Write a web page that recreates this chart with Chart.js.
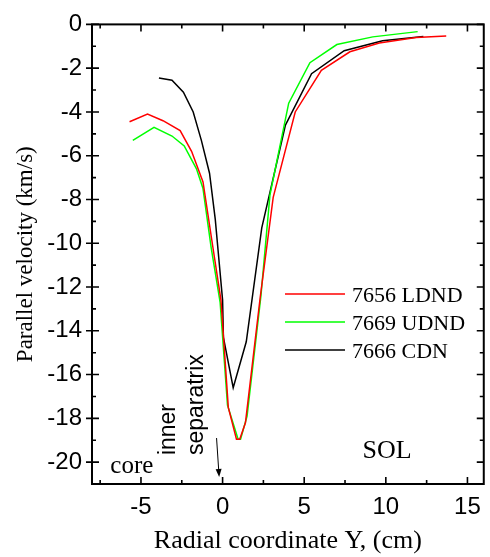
<!DOCTYPE html>
<html>
<head>
<meta charset="utf-8">
<script src="https://cdn.jsdelivr.net/npm/chart.js@4.4.1/dist/chart.umd.min.js"></script>
<style>
  html, body { margin: 0; padding: 0; background: #fff; }
  #wrap { width: 490px; height: 557px; }
</style>
</head>
<body>
<div id="wrap"><canvas id="velChart" width="490" height="557"></canvas></div>
<script>
// parallel velocity profiles across the separatrix
const seriesLabels = ['7656 LDND', '7669 UDND', '7666 CDN'];
const seriesColors = ['#ff0000', '#00ff00', '#000000'];

const ldndX = [-5.7, -4.6, -3.65, -2.6, -1.9, -1.2, -0.55, -0.1, 0.35, 0.85, 1.05, 1.4, 2.3, 3.1, 4.45, 6.05, 7.8, 9.6, 11.85, 13.7];
const ldndY = [-4.45, -4.1, -4.4, -4.85, -5.8, -7.2, -10.4, -12.6, -17.5, -18.95, -18.95, -18.2, -12.5, -7.9, -4.0, -2.1, -1.25, -0.85, -0.6, -0.53];

const udndX = [-5.5, -4.2, -3.1, -2.35, -1.6, -1.2, -0.7, -0.15, 0.3, 0.95, 1.1, 1.5, 2.35, 2.9, 4.05, 5.35, 7.0, 9.2, 11.95];
const udndY = [-5.3, -4.7, -5.1, -5.55, -6.6, -7.5, -10.2, -12.7, -17.4, -18.95, -18.95, -17.9, -12.4, -7.8, -3.6, -1.75, -0.92, -0.57, -0.33];

const cdnX = [-3.9, -3.1, -2.4, -1.8, -1.3, -0.8, -0.45, 0.0, 0.05, 0.65, 1.45, 2.4, 3.85, 5.45, 7.45, 9.8, 12.3];
const cdnY = [-2.45, -2.55, -3.1, -4.0, -5.3, -6.8, -8.9, -12.6, -14.3, -16.6, -14.5, -9.3, -4.6, -2.25, -1.2, -0.75, -0.55];

// axis ticks
const xTickValues = [-5, 0, 5, 10, 15];
const xMinorTicks = [-7.5, -2.5, 2.5, 7.5, 12.5];
const yTickValues = [0, -2, -4, -6, -8, -10, -12, -14, -16, -18, -20];
const yMinorTicks = [-1, -3, -5, -7, -9, -11, -13, -15, -17, -19];

const serif = '"Liberation Serif", "Times New Roman", serif';
const sans = '"Liberation Sans", Arial, sans-serif';

function toPoints(xs, ys) {
    return xs.map((x, i) => ({ x: x, y: ys[i] }));
}

// frame, inward ticks, legend, titles and the text notes
const decorPlugin = {
    id: 'decor',
    afterDraw(chart) {
        const ctx = chart.ctx;
        const a = chart.chartArea;
        const sx = chart.scales.x;
        const sy = chart.scales.y;
        ctx.save();
        ctx.strokeStyle = '#000';
        ctx.fillStyle = '#000';

        // ticks
        ctx.lineWidth = 1.6;
        ctx.beginPath();
        xTickValues.forEach(v => {
            const px = sx.getPixelForValue(v);
            ctx.moveTo(px, a.bottom); ctx.lineTo(px, a.bottom - 7);
            ctx.moveTo(px, a.top); ctx.lineTo(px, a.top + 7);
        });
        xMinorTicks.forEach(v => {
            const px = sx.getPixelForValue(v);
            ctx.moveTo(px, a.bottom); ctx.lineTo(px, a.bottom - 4);
            ctx.moveTo(px, a.top); ctx.lineTo(px, a.top + 4);
        });
        yTickValues.forEach(v => {
            const py = sy.getPixelForValue(v);
            ctx.moveTo(a.left - 6, py); ctx.lineTo(a.left + 7, py);
            ctx.moveTo(a.right, py); ctx.lineTo(a.right - 7, py);
        });
        yMinorTicks.forEach(v => {
            const py = sy.getPixelForValue(v);
            ctx.moveTo(a.left, py); ctx.lineTo(a.left + 4, py);
            ctx.moveTo(a.right, py); ctx.lineTo(a.right - 4, py);
        });
        ctx.stroke();

        // frame
        ctx.lineWidth = 2;
        ctx.strokeRect(a.left, a.top, a.right - a.left, a.bottom - a.top);

        // legend
        ctx.font = '22px ' + serif;
        ctx.textAlign = 'left';
        ctx.textBaseline = 'alphabetic';
        chart.data.datasets.forEach((ds, i) => {
            const ly = 294 + i * 28;
            ctx.strokeStyle = ds.borderColor;
            ctx.lineWidth = 1.5;
            ctx.beginPath();
            ctx.moveTo(285, ly);
            ctx.lineTo(345, ly);
            ctx.stroke();
            ctx.fillText(ds.label, 352, ly + 8);
        });

        // axis titles
        ctx.font = '26px ' + serif;
        ctx.textAlign = 'center';
        ctx.fillText('Radial coordinate Y, (cm)', (a.left + a.right) / 2, 548);
        ctx.save();
        ctx.translate(32, (a.top + a.bottom) / 2);
        ctx.rotate(-Math.PI / 2);
        ctx.font = '23px ' + serif;
        ctx.fillText('Parallel velocity (km/s)', 0, 0);
        ctx.restore();

        // notes
        ctx.textAlign = 'left';
        ctx.font = '25px ' + serif;
        ctx.fillText('core', sx.getPixelForValue(-6.88), sy.getPixelForValue(-20.5));
        ctx.font = '26px ' + serif;
        ctx.fillText('SOL', sx.getPixelForValue(8.57), sy.getPixelForValue(-19.82));

        ctx.font = '23px ' + sans;
        [['inner', -2.92], ['separatrix', -1.2]].forEach(([txt, xv]) => {
            ctx.save();
            ctx.translate(sx.getPixelForValue(xv), sy.getPixelForValue(-19.68));
            ctx.rotate(-Math.PI / 2);
            ctx.fillText(txt, 0, 0);
            ctx.restore();
        });

        // arrow pointing at the separatrix
        const x1 = sx.getPixelForValue(-0.37), y1 = sy.getPixelForValue(-18.9);
        const x2 = sx.getPixelForValue(-0.21), y2 = sy.getPixelForValue(-20.68);
        const ang = Math.atan2(y2 - y1, x2 - x1);
        ctx.strokeStyle = '#000';
        ctx.lineWidth = 1;
        ctx.beginPath();
        ctx.moveTo(x1, y1);
        ctx.lineTo(x2 - 5 * Math.cos(ang), y2 - 5 * Math.sin(ang));
        ctx.stroke();
        ctx.beginPath();
        ctx.moveTo(x2, y2);
        ctx.lineTo(x2 - 8 * Math.cos(ang) + 3 * Math.sin(ang), y2 - 8 * Math.sin(ang) - 3 * Math.cos(ang));
        ctx.lineTo(x2 - 8 * Math.cos(ang) - 3 * Math.sin(ang), y2 - 8 * Math.sin(ang) + 3 * Math.cos(ang));
        ctx.closePath();
        ctx.fill();

        ctx.restore();
    }
};

const config = {
    type: 'line',
    data: {
        datasets: [
            { label: seriesLabels[0], data: toPoints(ldndX, ldndY), borderColor: seriesColors[0] },
            { label: seriesLabels[1], data: toPoints(udndX, udndY), borderColor: seriesColors[1] },
            { label: seriesLabels[2], data: toPoints(cdnX, cdnY), borderColor: seriesColors[2] }
        ]
    },
    options: {
        responsive: false,
        animation: false,
        layout: { padding: { top: 20, right: 5, left: 0, bottom: 0 } },
        elements: {
            line: { borderWidth: 1.5, tension: 0, fill: false },
            point: { radius: 0, hoverRadius: 0 }
        },
        plugins: {
            legend: { display: false },
            tooltip: { enabled: false }
        },
        scales: {
            x: {
                type: 'linear',
                min: -8,
                max: 16,
                grid: { display: false, drawTicks: false },
                border: { display: false },
                ticks: {
                    padding: 9,
                    color: '#000',
                    font: { family: sans, size: 24 }
                },
                afterBuildTicks: s => { s.ticks = xTickValues.map(v => ({ value: v })); },
                afterFit: s => { s.height = 73; }
            },
            y: {
                type: 'linear',
                min: -21,
                max: 0,
                grid: { display: false, drawTicks: false },
                border: { display: false },
                ticks: {
                    padding: 10,
                    color: '#000',
                    font: { family: sans, size: 24 }
                },
                afterBuildTicks: s => { s.ticks = yTickValues.map(v => ({ value: v })); },
                afterFit: s => { s.width = 92; }
            }
        }
    },
    plugins: [decorPlugin]
};

new Chart(document.getElementById('velChart').getContext('2d'), config);
</script>
</body>
</html>
